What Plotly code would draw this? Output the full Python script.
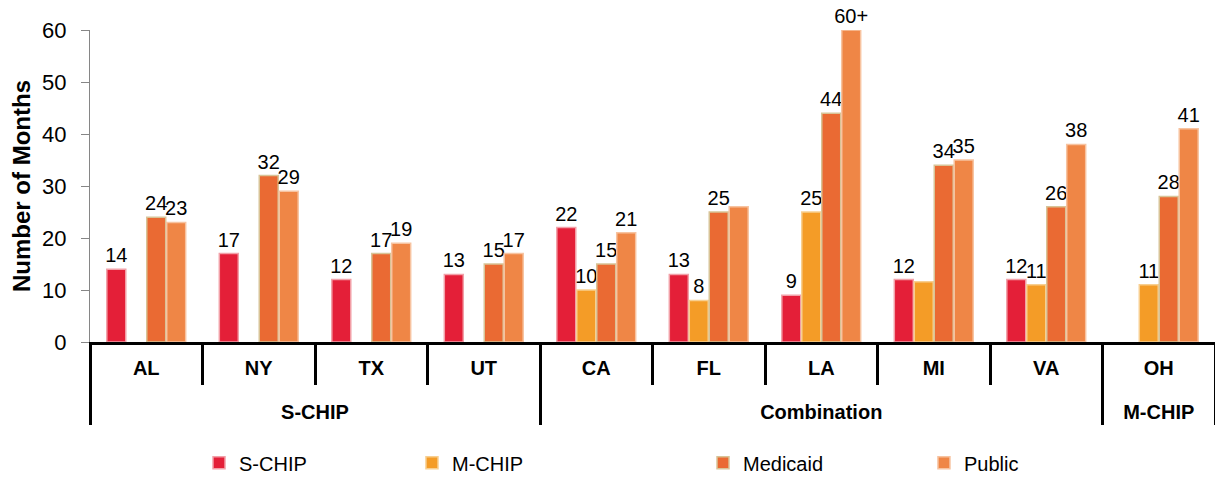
import plotly.graph_objects as go

# Months of coverage by state and CHIP program type
states = ['AL', 'NY', 'TX', 'UT', 'CA', 'FL', 'LA', 'MI', 'VA', 'OH']
programs = ['S-CHIP'] * 4 + ['Combination'] * 5 + ['M-CHIP']

s_chip = [14, 17, 12, 13, 22, 13, 9, 12, 12, None]
m_chip = [None, None, None, None, 10, 8, 25, 11.6, 11, 11]
medicaid = [24, 32, 17, 15, 15, 25, 44, 34, 26, 28]
public = [23, 29, 19, 17, 21, 26, 60, 35, 38, 41]

s_chip_text = ['14', '17', '12', '13', '22', '13', '9', '12', '12', '']
m_chip_text = ['', '', '', '', '10', '8', '25', '', '11', '11']
medicaid_text = ['24', '32', '17', '15', '15', '25', '44', '34', '26', '28']
public_text = ['23', '29', '19', '17', '21', '', '60+', '35', '38', '41']

# outer level pushed down one line to leave room like the original
x = [['<br>' + p for p in programs], states]

series = [
    ('S-CHIP', s_chip, s_chip_text, '#E41F38', '#F2A0A8', 'legend'),
    ('M-CHIP', m_chip, m_chip_text, '#F49C27', '#F8CF90', 'legend2'),
    ('Medicaid', medicaid, medicaid_text, '#EA6A33', '#D8C497', 'legend3'),
    ('Public', public, public_text, '#EF8646', '#F7C3A0', 'legend4'),
]

fig = go.Figure()
for name, vals, txt, color, edge, leg in series:
    fig.add_trace(go.Bar(
        x=x, y=vals, name=name, text=txt, legend=leg, showlegend=True,
        textposition='outside', cliponaxis=False, constraintext='none',
        textfont=dict(color='black', size=20, family='Liberation Sans'),
        marker=dict(color=color, line=dict(color=edge, width=1.5)),
    ))

# one legend per series so the entries sit where the original has them
leg_style = dict(orientation='h', yref='container', y=0.03, yanchor='middle',
                 xanchor='left', font=dict(size=20), bgcolor='rgba(0,0,0,0)')

fig.update_layout(
    width=1215, height=477, showlegend=True,
    barmode='group', bargap=0.29, bargroupgap=0.05,
    plot_bgcolor='white', paper_bgcolor='white',
    margin=dict(l=90, r=0, t=30, b=135),
    font=dict(family='Liberation Sans', size=18, color='black'),
    legend=dict(x=0.0969, **leg_style),
    legend2=dict(x=0.2862, **leg_style),
    legend3=dict(x=0.5449, **leg_style),
    legend4=dict(x=0.7413, **leg_style),
    yaxis=dict(
        range=[0, 60], dtick=10, showgrid=False, zeroline=False, automargin=False,
        showline=True, linecolor='#868686', linewidth=1,
        ticks='outside', ticklen=8, tickcolor='#868686', ticklabelstandoff=10,
        title=dict(text='<b>Number of Months</b>', font=dict(size=24), standoff=4),
        tickfont=dict(size=22),
    ),
    xaxis=dict(
        type='multicategory', showgrid=False, showline=True, automargin=False,
        linecolor='black', linewidth=3, ticks='outside', ticklen=40,
        tickcolor='black', tickwidth=3, ticklabelstandoff=6,
        showdividers=True, dividercolor='black', dividerwidth=3,
        tickfont=dict(size=20, family='Liberation Sans', weight='bold'),
    ),
)

fig.write_html('out.html', config={'displayModeBar': False},
               post_script="document.body.style.margin='0';")
